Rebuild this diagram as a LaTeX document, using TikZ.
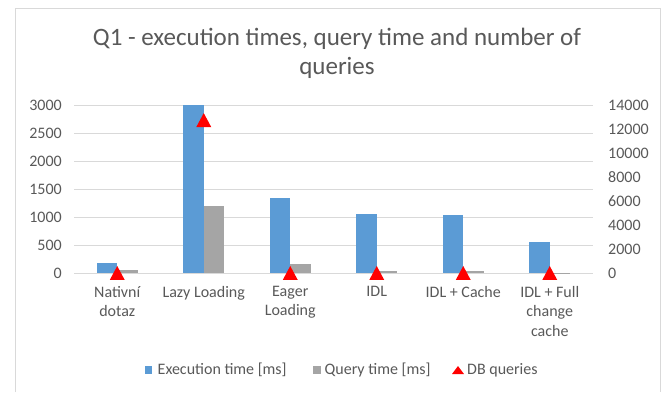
\documentclass[tikz,border=0pt]{standalone}
\usepackage{fontspec}
\setmainfont{Carlito}
\definecolor{txt}{HTML}{595959}
\definecolor{grid}{HTML}{D9D9D9}
\definecolor{frame}{HTML}{D9D9D9}
\definecolor{exec}{HTML}{5B9BD5}
\definecolor{qtime}{HTML}{A5A5A5}
\definecolor{dbq}{HTML}{FF0000}
\begin{document}
\begin{tikzpicture}[x=1pt,y=-1pt,
  lbl/.style={inner sep=0pt,text=txt,font=\fontsize{16}{19.5}\selectfont},
  cat/.style={lbl,align=center,anchor=north},
  ttl/.style={inner sep=0pt,text=txt,align=center,font=\fontsize{25}{29}\selectfont},
  gridline/.style={draw=grid,line width=1pt},
  barA/.style={fill=exec},
  barB/.style={fill=qtime},
  tri/.style={fill=dbq}]
\useasboundingbox (0,0) rectangle (666,392);
\fill[white] (0,0) rectangle (666,392);
% frame
\draw[frame,line width=1pt] (15,392) -- (15,8) -- (660,8) -- (660,392);
% title
\node[ttl] (title) at (337,53.5) {Q1 - execution times, query time and number of\\queries};
% gridlines and axis labels
\foreach \v [count=\i] in {0,500,1000,1500,2000,2500,3000}{
  \pgfmathsetmacro\yy{273-\v*0.056}
  \draw[gridline] (74,\yy) -- (593,\yy);
  \node[lbl,anchor=east] (yl\i) at (62,\yy) {\v};
}
\foreach \v [count=\i] in {0,2000,4000,6000,8000,10000,12000,14000}{
  \pgfmathsetmacro\yy{273-\v*0.012}
  \node[lbl,anchor=west] (yr\i) at (608,\yy) {\v};
}
% bars
\foreach \a/\b [count=\i] in {173/55,3000/1200,1345/160,1055/40,1038/30,548/5}{
  \pgfmathsetmacro\cx{74+86.5*(\i-0.5)}
  \pgfmathsetmacro\ya{273-\a*0.056}
  \pgfmathsetmacro\yb{273-\b*0.056}
  \fill[barA] (\cx-20.5,273) rectangle (\cx,\ya);
  \fill[barB] (\cx,273) rectangle (\cx+20.5,\yb);
}
% markers
\foreach \d [count=\i] in {1,12750,3,1,1,1}{
  \pgfmathsetmacro\cx{74+86.5*(\i-0.5)}
  \pgfmathsetmacro\cy{273-\d*0.012}
  \fill[tri] (\cx-7.5,\cy+7) -- (\cx+7.5,\cy+7) -- (\cx,\cy-7) -- cycle;
}
% categories
\node[cat] (c1) at (117.25,286) {Nativní\\dotaz};
\node[cat] (c2) at (203.75,286) {Lazy Loading};
\node[cat] (c3) at (290.25,286) {Eager\\Loading};
\node[cat] (c4) at (376.75,286) {IDL};
\node[cat] (c5) at (463.25,286) {IDL + Cache};
\node[cat] (c6) at (549.75,286) {IDL + Full\\change\\cache};
% legend
\fill[exec] (144.5,366) rectangle (152,373.5);
\node[lbl,anchor=west] (lg1) at (157.5,370) {Execution time [ms]};
\fill[qtime] (313,366) rectangle (320.5,373.5);
\node[lbl,anchor=west] (lg2) at (324.5,370) {Query time [ms]};
\fill[dbq] (452,374) -- (464,374) -- (458,366) -- cycle;
\node[lbl,anchor=west] (lg3) at (467,370) {DB queries};
\end{tikzpicture}
\end{document}
